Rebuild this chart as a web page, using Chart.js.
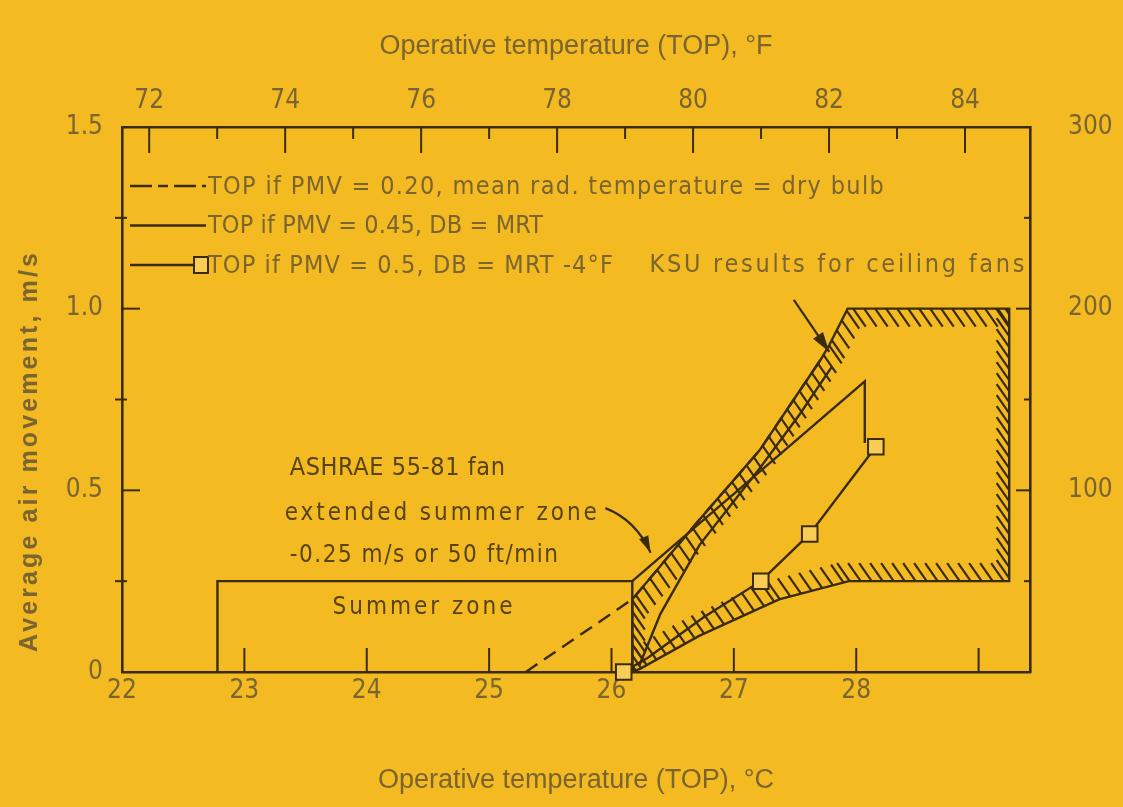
<!DOCTYPE html>
<html><head><meta charset="utf-8">
<script src="https://cdn.jsdelivr.net/npm/chart.js@4.4.1/dist/chart.umd.min.js"></script>
<style>html,body{margin:0;padding:0;background:#F4BA22;overflow:hidden}#wrap{width:1123px;height:807px}</style>
</head><body><div id="wrap"><canvas id="c" width="1123" height="807"></canvas></div>
<script>
// ---------- data ----------
const cTicks = [22, 23, 24, 25, 26, 27, 28];          // °C labels (bottom)
const fTicks = [72, 74, 76, 78, 80, 82, 84];          // °F labels (top)
const mpsTicks = [0, 0.5, 1.0, 1.5];                  // m/s labels (left)
const ftTicks = [100, 200, 300];                      // ft/min labels (right)

const summerX = [22.78, 22.78, 26.17, 26.17];
const summerY = [0, 0.25, 0.25, 0];
const extX = [26.17, 28.07, 28.07];
const extY = [0.25, 0.80, 0.63];
const pmv020X = [25.30, 26.17, 26.72, 27.21, 27.71];
const pmv020Y = [0, 0.20, 0.42, 0.61, 0.86];
const pmv045X = [26.23, 26.40, 26.72, 27.21, 27.54, 27.80];
const pmv045Y = [0.02, 0.16, 0.35, 0.56, 0.71, 0.84];
const pmv05X = [26.10, 26.30, 26.75, 27.22, 27.62, 28.16];
const pmv05Y = [0, 0.04, 0.15, 0.25, 0.38, 0.62];
const ksuX = [26.17, 26.17, 26.72, 27.21, 27.71, 27.78, 27.93, 29.25, 29.25, 27.94, 27.37, 26.72, 26.24];
const ksuY = [0, 0.20, 0.42, 0.61, 0.86, 0.90, 1.0, 1.0, 0.25, 0.25, 0.20, 0.10, 0.01];
const ashraeArrowX = [25.95, 26.20, 26.32];
const ashraeArrowY = [0.451, 0.418, 0.328];
const ksuArrowX = [27.49, 27.78];
const ksuArrowY = [1.024, 0.881];

// ---------- style / layout ----------
const BG = '#F4BA22', INK = '#3b2b0d', TXT = '#7a6430', NOTE = '#574314';
const NARROW = '"Liberation Sans Narrow", "DejaVu Sans Condensed", "Liberation Sans", sans-serif';
const SANS = '"Liberation Sans", Arial, sans-serif';
const X_MIN = 22, X_MAX = 29.42, Y_MIN = 0, Y_MAX = 1.5;
const cToF = c => c * 1.8 + 32;
const FT_PER_MPS = 200;
const range = (a, b, st) => Array.from({length: Math.round((b - a) / st) + 1}, (_, i) => +(a + i * st).toFixed(6));

const pts = (xs, ys) => xs.map((x, i) => ({x, y: ys[i]}));
const line = (extra) => Object.assign({showLine: true, fill: false, tension: 0, borderColor: INK,
  borderWidth: 2.4, pointRadius: 0, pointHoverRadius: 0}, extra);

const notes = [
  {t: 'ASHRAE 55-81 fan', x: 23.37, y: 0.56, w: 216, size: 25, color: NOTE},
  {t: 'extended summer zone', x: 23.33, y: 0.435, w: 315, size: 24, color: NOTE},
  {t: '-0.25 m/s or 50 ft/min', x: 23.37, y: 0.32, w: 270, size: 24, color: NOTE},
  {t: 'Summer zone', x: 23.72, y: 0.176, w: 183, size: 24, color: NOTE},
  {t: 'KSU results for ceiling fans', x: 26.31, y: 1.12, w: 378, size: 25, color: TXT}
];
const legendWidths = [677, 335, 406];

const datasets = [
  line({label: 'TOP if PMV = 0.5, DB = MRT -4°F', data: pts(pmv05X, pmv05Y), order: 0, clip: false,
    pointStyle: 'rect', pointRadius: [11, 0, 0, 11, 11, 11], pointBackgroundColor: '#F8CC55',
    pointBorderColor: INK, pointBorderWidth: 2, legend: true}),
  line({label: 'TOP if PMV = 0.45, DB = MRT', data: pts(pmv045X, pmv045Y), order: 1, legend: true}),
  line({label: 'TOP if PMV = 0.20, mean rad. temperature = dry bulb', data: pts(pmv020X, pmv020Y),
    borderDash: [14, 8], order: 2, legend: true}),
  line({label: 'ASHRAE 55-81 fan extended summer zone', data: pts(extX, extY), order: 3}),
  line({label: 'Summer zone', data: pts(summerX, summerY), order: 4}),
  line({label: 'KSU results for ceiling fans', data: pts(ksuX.concat([ksuX[0]]), ksuY.concat([ksuY[0]])),
    order: 5, hatch: true})
];

// ---------- plugins ----------
const bgPlugin = {id: 'bg', beforeDraw(chart) {
  const {ctx, width, height} = chart; ctx.save(); ctx.fillStyle = BG; ctx.fillRect(0, 0, width, height); ctx.restore();
}};

const hatchPlugin = {id: 'hatch', beforeDatasetsDraw(chart) {
  const {ctx, scales} = chart;
  const v = [0.57, 0.82], L = 22, step = 11;
  chart.data.datasets.filter(d => d.hatch).forEach(d => {
    const p = d.data.map(q => [scales.x.getPixelForValue(q.x), scales.y.getPixelForValue(q.y)]);
    ctx.save();
    ctx.beginPath(); p.forEach(([x, y], i) => i ? ctx.lineTo(x, y) : ctx.moveTo(x, y)); ctx.closePath(); ctx.clip();
    ctx.strokeStyle = INK; ctx.lineWidth = 2.2;
    for (let i = 0; i < p.length - 1; i++) {
      const [x1, y1] = p[i], [x2, y2] = p[i + 1];
      const dx = x2 - x1, dy = y2 - y1, len = Math.hypot(dx, dy);
      if (len < 1) continue;
      const nx = -dy / len, ny = dx / len;
      const s = (v[0] * nx + v[1] * ny) >= 0 ? 1 : -1;
      for (let t = step / 2; t < len; t += step) {
        const px = x1 + dx * t / len, py = y1 + dy * t / len;
        ctx.beginPath(); ctx.moveTo(px, py); ctx.lineTo(px + s * v[0] * L, py + s * v[1] * L); ctx.stroke();
      }
    }
    ctx.restore();
  });
}};

const tickPlugin = {id: 'inwardTicks', afterDraw(chart) {
  const {ctx, chartArea: ca, scales} = chart;
  ctx.save(); ctx.strokeStyle = INK; ctx.lineWidth = 2;
  const seg = (a, b, c, d) => {ctx.beginPath(); ctx.moveTo(a, b); ctx.lineTo(c, d); ctx.stroke();};
  scales.x.ticks.forEach(t => { const val = t.value; if (val <= X_MIN) return;
    const px = scales.x.getPixelForValue(val); seg(px, ca.bottom, px, ca.bottom - 24); });
  scales.x2.ticks.forEach(t => { const val = t.value;
    const px = scales.x2.getPixelForValue(val); seg(px, ca.top, px, ca.top + (val % 2 === 0 ? 26 : 12)); });
  scales.y.ticks.forEach(t => { const val = t.value; if (val <= Y_MIN || val >= Y_MAX) return;
    const py = scales.y.getPixelForValue(val);
    if (mpsTicks.includes(val)) seg(ca.left, py, ca.left + 18, py); else seg(ca.left - 7, py, ca.left + 5, py); });
  scales.y2.ticks.forEach(t => { const val = t.value; if (val <= 0 || val >= Y_MAX * FT_PER_MPS) return;
    const py = scales.y2.getPixelForValue(val); seg(ca.right, py, ca.right - (ftTicks.includes(val) ? 14 : 6), py); });
  ctx.restore();
}};

function fitText(ctx, text, x, y, w) {
  ctx.letterSpacing = '0px';
  const m = ctx.measureText(text).width;
  if ('letterSpacing' in ctx) ctx.letterSpacing = ((w - m) / text.length).toFixed(2) + 'px';
  ctx.fillText(text, x, y);
  ctx.letterSpacing = '0px';
}
function arrowHead(ctx, x1, y1, x2, y2, len, half) {
  const a = Math.atan2(y2 - y1, x2 - x1);
  ctx.beginPath(); ctx.moveTo(x2, y2);
  ctx.lineTo(x2 - len * Math.cos(a) + half * Math.sin(a), y2 - len * Math.sin(a) - half * Math.cos(a));
  ctx.lineTo(x2 - len * Math.cos(a) - half * Math.sin(a), y2 - len * Math.sin(a) + half * Math.cos(a));
  ctx.closePath(); ctx.fill();
}

const textPlugin = {id: 'texts', afterDatasetsDraw(chart) {
  const {ctx, chartArea: ca, scales} = chart;
  const X = v => scales.x.getPixelForValue(v), Y = v => scales.y.getPixelForValue(v);
  ctx.save();
  ctx.textBaseline = 'middle'; ctx.textAlign = 'left';
  // left axis title
  ctx.save(); ctx.translate(30, 451); ctx.rotate(-Math.PI / 2);
  ctx.fillStyle = TXT; ctx.font = 'bold 25px ' + SANS;
  fitText(ctx, 'Average air movement, m/s', -201, 0, 402);
  ctx.restore();
  // legend
  const legendSets = chart.data.datasets.filter(d => d.legend).reverse();
  legendSets.forEach((d, i) => {
    const y = ca.top + 59 + i * 39.5;
    ctx.strokeStyle = INK; ctx.lineWidth = 2.4;
    ctx.setLineDash(d.borderDash ? [22, 6, 10, 6] : []);
    ctx.beginPath(); ctx.moveTo(ca.left + 8, y); ctx.lineTo(ca.left + (d.pointStyle ? 72 : 84), y); ctx.stroke();
    ctx.setLineDash([]);
    if (d.pointStyle) {
      ctx.fillStyle = '#F8CC55'; ctx.lineWidth = 2;
      ctx.fillRect(ca.left + 72, y - 8, 14, 16); ctx.strokeRect(ca.left + 72, y - 8, 14, 16);
    }
    ctx.fillStyle = TXT; ctx.font = '25px ' + NARROW;
    fitText(ctx, d.label, ca.left + 86, y + 1, legendWidths[i]);
  });
  // notes
  notes.forEach(n => { ctx.fillStyle = n.color; ctx.font = n.size + 'px ' + NARROW; fitText(ctx, n.t, X(n.x), Y(n.y), n.w); });
  // arrows
  ctx.strokeStyle = INK; ctx.fillStyle = INK; ctx.lineWidth = 2.2;
  const ax = ashraeArrowX.map(X), ay = ashraeArrowY.map(Y);
  ctx.beginPath(); ctx.moveTo(ax[0], ay[0]); ctx.quadraticCurveTo(ax[1], ay[1], ax[2], ay[2]); ctx.stroke();
  arrowHead(ctx, ax[1], ay[1], ax[2], ay[2], 17, 5);
  const kx = ksuArrowX.map(X), ky = ksuArrowY.map(Y);
  ctx.beginPath(); ctx.moveTo(kx[0], ky[0]); ctx.lineTo(kx[1], ky[1]); ctx.stroke();
  arrowHead(ctx, kx[0], ky[0], kx[1], ky[1], 20, 6);
  ctx.restore();
}};

// ---------- chart ----------
const tickFont = {family: NARROW, size: 26};
const border = {display: true, color: INK, width: 2.6};
const noGrid = {display: false, drawTicks: false};
new Chart(document.getElementById('c'), {
  type: 'scatter',
  data: {datasets},
  options: {
    responsive: false, animation: false, devicePixelRatio: 1,
    layout: {padding: 0},
    plugins: {legend: {display: false}, tooltip: {enabled: false}},
    scales: {
      x: {type: 'linear', position: 'bottom', min: X_MIN, max: X_MAX, grid: noGrid, border,
        afterBuildTicks: s => { s.ticks = range(cTicks[0], Math.floor(X_MAX), 1).map(value => ({value})); },
        ticks: {autoSkip: false, maxRotation: 0, padding: 4, font: tickFont, color: TXT,
          callback: v => cTicks.includes(v) ? String(v) : ''},
        title: {display: true, text: 'Operative temperature (TOP), °C', color: TXT,
          font: {family: SANS, size: 27}, padding: {top: 0, bottom: 10}},
        afterFit: s => { s.height = 135; }},
      x2: {type: 'linear', position: 'top', min: cToF(X_MIN), max: cToF(X_MAX), grid: noGrid, border,
        afterBuildTicks: s => { s.ticks = range(fTicks[0], fTicks[fTicks.length - 1], 1).map(value => ({value})); },
        ticks: {autoSkip: false, maxRotation: 0, padding: 10, font: tickFont, color: TXT,
          callback: v => fTicks.includes(v) ? String(v) : ''},
        title: {display: true, text: 'Operative temperature (TOP), °F', color: TXT,
          font: {family: SANS, size: 27}, padding: {top: 30, bottom: 0}},
        afterFit: s => { s.height = 127; }},
      y: {type: 'linear', position: 'left', min: Y_MIN, max: Y_MAX, grid: noGrid, border,
        afterBuildTicks: s => { s.ticks = range(Y_MIN, Y_MAX, 0.25).map(value => ({value})); },
        ticks: {autoSkip: false, padding: 19, font: tickFont, color: TXT,
          callback: v => mpsTicks.includes(v) ? (v === 0 ? '0' : v.toFixed(1)) : ''},
        afterFit: s => { s.width = 122; }},
      y2: {type: 'linear', position: 'right', display: true, min: 0, max: Y_MAX * FT_PER_MPS, grid: noGrid, border,
        afterBuildTicks: s => { s.ticks = range(0, Y_MAX * FT_PER_MPS, 50).map(value => ({value})); },
        ticks: {autoSkip: false, padding: 38, font: tickFont, color: TXT,
          callback: v => ftTicks.includes(v) ? String(v) : ''},
        afterFit: s => { s.width = 93; }}
    }
  },
  plugins: [bgPlugin, hatchPlugin, tickPlugin, textPlugin]
});
</script></body></html>
